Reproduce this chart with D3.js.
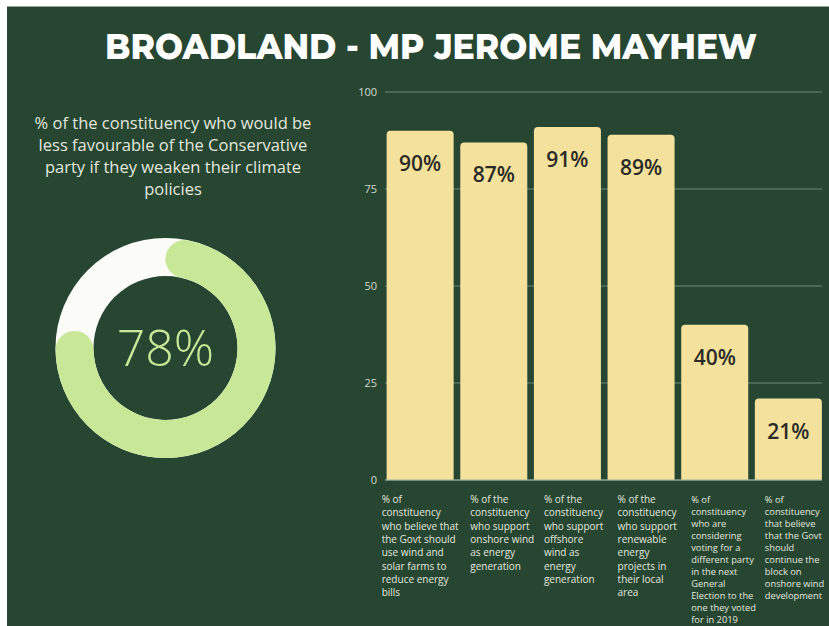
<!DOCTYPE html>
<html>
<head>
<meta charset="utf-8">
<script src="https://cdn.jsdelivr.net/npm/d3@7"></script>
<style>
  html, body { margin: 0; padding: 0; background: #ffffff; }
  svg { display: block; }
</style>
</head>
<body>
<svg id="chart" width="829" height="626"></svg>
<script>
// ---- data ----
const title = "BROADLAND - MP JEROME MAYHEW";
const donutCaption = ["% of the constituency who would be", "less favourable of the Conservative", "party if they weaken their climate", "policies"];
const donutValue = 78;
const categories = [
  ["% of", "constituency", "who believe that", "the Govt should", "use wind and", "solar farms to", "reduce energy", "bills"],
  ["% of the", "constituency", "who support", "onshore wind", "as energy", "generation"],
  ["% of the", "constituency", "who support", "offshore", "wind as", "energy", "generation"],
  ["% of the", "constituency", "who support", "renewable", "energy", "projects in", "their local", "area"],
  ["% of", "constituency", "who are", "considering", "voting for a", "different party", "in the next", "General", "Election to the", "one they voted", "for in 2019"],
  ["%  of", "constituency", "that believe", "that the Govt", "should", "continue the", "block on", "onshore wind", "development"]
];
const values = [90, 87, 91, 89, 40, 21];
const yTicks = [0, 25, 50, 75, 100];

// ---- styles ----
const bg = "#274632";
const barColor = "#f4e19b";
const ringGreen = "#c9e897";
const ringWhite = "#fbfbf8";
const textLight = "#e3e7de";

const svg = d3.select("#chart");

// background panel
svg.append("rect").attr("x", 7).attr("y", 6).attr("width", 822).attr("height", 620).attr("fill", bg);
svg.append("line").attr("x1", 7).attr("x2", 829).attr("y1", 6.5).attr("y2", 6.5).attr("stroke", "#9aa59d").attr("stroke-width", 1);

// title
svg.append("text")
  .attr("x", 431).attr("y", 59)
  .attr("text-anchor", "middle")
  .attr("font-family", "Montserrat, 'Open Sans', sans-serif")
  .attr("font-weight", 800)
  .attr("font-size", 36)
  .attr("fill", "#ffffff")
  .attr("textLength", 652)
  .attr("lengthAdjust", "spacingAndGlyphs")
  .text(title);

// donut caption
svg.append("g").selectAll("text").data(donutCaption).join("text")
  .attr("x", 173)
  .attr("y", (d, i) => 129 + i * 22)
  .attr("text-anchor", "middle")
  .attr("font-family", "'Open Sans', sans-serif")
  .attr("font-size", 16.5)
  .attr("fill", textLight)
  .text(d => d);

// donut
const cx = 165.5, cy = 348, R = 110, r = 72;
const dg = svg.append("g").attr("transform", `translate(${cx},${cy})`);
const arc = d3.arc().innerRadius(r).outerRadius(R);
dg.append("path").attr("d", arc({startAngle: 0, endAngle: 2 * Math.PI})).attr("fill", ringWhite);
dg.append("path")
  .attr("d", d3.arc().innerRadius(r).outerRadius(R).cornerRadius((R - r) / 2)({startAngle: 0, endAngle: 2 * Math.PI * donutValue / 100}))
  .attr("fill", ringGreen);
dg.append("text")
  .attr("x", 0).attr("y", 0)
  .attr("dy", "0.36em")
  .attr("text-anchor", "middle")
  .attr("font-family", "'Open Sans', sans-serif")
  .attr("font-weight", 300)
  .attr("font-size", 50)
  .attr("fill", ringGreen)
  .text(donutValue + "%");

// bar chart
const x = d3.scaleBand().domain(d3.range(values.length)).range([380, 828.5]).padding(0.09);
const y = d3.scaleLinear().domain([0, 100]).range([480, 92]);

const grid = svg.append("g");
grid.selectAll("line").data(yTicks).join("line")
  .attr("x1", 385).attr("x2", 822)
  .attr("y1", d => y(d)).attr("y2", d => y(d))
  .attr("stroke", "#7d9a84").attr("stroke-opacity", 0.8).attr("stroke-width", 1);

const yAxis = svg.append("g").attr("transform", "translate(377,0)")
  .call(d3.axisLeft(y).tickValues(yTicks).tickSize(0).tickPadding(0));
yAxis.select(".domain").remove();
yAxis.selectAll("text")
  .attr("font-family", "'Open Sans', sans-serif")
  .attr("font-size", 11)
  .attr("fill", "#d3d9cf");

const rTop = 4;
function barPath(x0, w, yTop, yBase) {
  const rr = Math.min(rTop, (yBase - yTop));
  return `M${x0},${yBase}V${yTop + rr}Q${x0},${yTop} ${x0 + rr},${yTop}H${x0 + w - rr}Q${x0 + w},${yTop} ${x0 + w},${yTop + rr}V${yBase}Z`;
}
svg.append("g").selectAll("path").data(values).join("path")
  .attr("d", (d, i) => barPath(x(i), x.bandwidth(), y(d), y(0)))
  .attr("fill", barColor);

svg.append("line").attr("x1", 385).attr("x2", 822).attr("y1", y(0)).attr("y2", y(0))
  .attr("stroke", "#9fb5a3").attr("stroke-width", 1);

svg.append("g").selectAll("text").data(values).join("text")
  .attr("x", (d, i) => x(i) + x.bandwidth() / 2)
  .attr("y", d => y(d) + 40)
  .attr("text-anchor", "middle")
  .attr("font-family", "'Open Sans', sans-serif")
  .attr("font-weight", 600)
  .attr("font-size", 21)
  .attr("fill", "#2a2a26")
  .text(d => d + "%");

// category labels
const catG = svg.append("g");
categories.forEach((lines, i) => {
  const small = lines.length >= 9;
  const fs = small ? 9.3 : 10;
  const lh = small ? 12 : 13.3;
  const t = catG.append("text")
    .attr("font-family", "'Open Sans', sans-serif")
    .attr("font-size", fs)
    .attr("fill", textLight);
  t.selectAll("tspan").data(lines).join("tspan")
    .attr("y", (d, j) => 503 + j * lh)
    .text(d => d);
  let widest = 0;
  t.selectAll("tspan").each(function () { widest = Math.max(widest, this.getComputedTextLength()); });
  let left = x(i) + 10;
  if (left + widest > x(i) + x.step() + 4) left = x(i) + x.bandwidth() / 2 - widest / 2;
  t.selectAll("tspan").attr("x", left);
});
</script>
</body>
</html>
